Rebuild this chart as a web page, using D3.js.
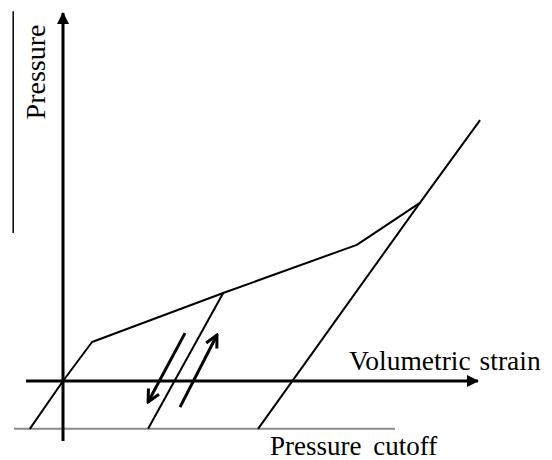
<!DOCTYPE html>
<html>
<head>
<meta charset="utf-8">
<script src="https://cdn.jsdelivr.net/npm/d3@7"></script>
<style>
  html, body { margin: 0; padding: 0; background: #fff; }
  text { font-family: "Liberation Serif", "Times New Roman", serif; fill: #000; }
</style>
</head>
<body>
<svg id="chart"></svg>
<script>
// values in arbitrary strain / pressure units
var loadingPath = [[-0.80, -1.30], [0, 0], [0.70, 1.06], [3.86, 2.39], [7.08, 3.70], [8.60, 4.84], [10.05, 7.09]];
var unloadingA = [[3.86, 2.39], [2.05, -1.30]];
var unloadingB = [[8.60, 4.84], [4.70, -1.30]];
var cutoffLine = [[-1.18, -1.30], [8.00, -1.30]];
var leftBar = [[-1.20, 10.05], [-1.20, 4.02]];
var downArrow = [[2.94, 1.30], [2.05, -0.57]];
var upArrow = [[2.82, -0.71], [3.71, 1.25]];
var xAxisExtent = [-0.89, 10.0];
var yAxisExtent = [-1.63, 10.0];

var width = 552, height = 460;

var svg = d3.select("#chart")
  .attr("width", width)
  .attr("height", height);

var x = d3.scaleLinear().domain([0, 10]).range([63, 478]);
var y = d3.scaleLinear().domain([0, 10]).range([381, 13]);

var line = d3.line()
  .x(d => x(d[0]))
  .y(d => y(d[1]));

var defs = svg.append("defs");

defs.append("marker")
  .attr("id", "axisHead")
  .attr("viewBox", "0 0 12 12")
  .attr("refX", 11)
  .attr("refY", 6)
  .attr("markerWidth", 12)
  .attr("markerHeight", 12)
  .attr("markerUnits", "userSpaceOnUse")
  .attr("orient", "auto")
  .append("path")
    .attr("d", "M0,0 L12,6 L0,12 Z")
    .attr("fill", "#000");

defs.append("marker")
  .attr("id", "openHead")
  .attr("viewBox", "-1 -1 16 16")
  .attr("refX", 13)
  .attr("refY", 7)
  .attr("markerWidth", 16)
  .attr("markerHeight", 16)
  .attr("markerUnits", "userSpaceOnUse")
  .attr("orient", "auto")
  .append("path")
    .attr("d", "M1,1 L13,7 L1,13")
    .attr("fill", "none")
    .attr("stroke", "#000")
    .attr("stroke-width", 3);

// stray bar at left
svg.append("path")
  .attr("d", line(leftBar))
  .attr("stroke", "#000")
  .attr("stroke-width", 1.5)
  .attr("fill", "none");

// pressure cutoff
svg.append("path")
  .attr("d", line(cutoffLine))
  .attr("stroke", "#8a8a8a")
  .attr("stroke-width", 2)
  .attr("fill", "none");

// axes
svg.append("path")
  .attr("d", line([[xAxisExtent[0], 0], [xAxisExtent[1], 0]]))
  .attr("stroke", "#000")
  .attr("stroke-width", 3)
  .attr("marker-end", "url(#axisHead)");

svg.append("path")
  .attr("d", line([[0, yAxisExtent[0]], [0, yAxisExtent[1]]]))
  .attr("stroke", "#000")
  .attr("stroke-width", 3)
  .attr("marker-end", "url(#axisHead)");

// curves
[loadingPath, unloadingA, unloadingB].forEach(function(d) {
  svg.append("path")
    .attr("d", line(d))
    .attr("stroke", "#000")
    .attr("stroke-width", 2)
    .attr("stroke-linejoin", "round")
    .attr("fill", "none");
});

// load / unload arrows
[downArrow, upArrow].forEach(function(d) {
  svg.append("path")
    .attr("d", line(d))
    .attr("stroke", "#000")
    .attr("stroke-width", 3)
    .attr("fill", "none")
    .attr("marker-end", "url(#openHead)");
});

// labels
svg.append("text")
  .attr("transform", "translate(45,72) rotate(-90)")
  .attr("text-anchor", "middle")
  .style("font-size", "28px")
  .text("Pressure");

svg.append("text")
  .attr("x", 349)
  .attr("y", 370)
  .style("font-size", "27.5px")
  .style("word-spacing", "2px")
  .text("Volumetric strain");

svg.append("text")
  .attr("x", 270)
  .attr("y", 455)
  .style("font-size", "27px")
  .style("word-spacing", "5px")
  .text("Pressure cutoff");
</script>
</body>
</html>
